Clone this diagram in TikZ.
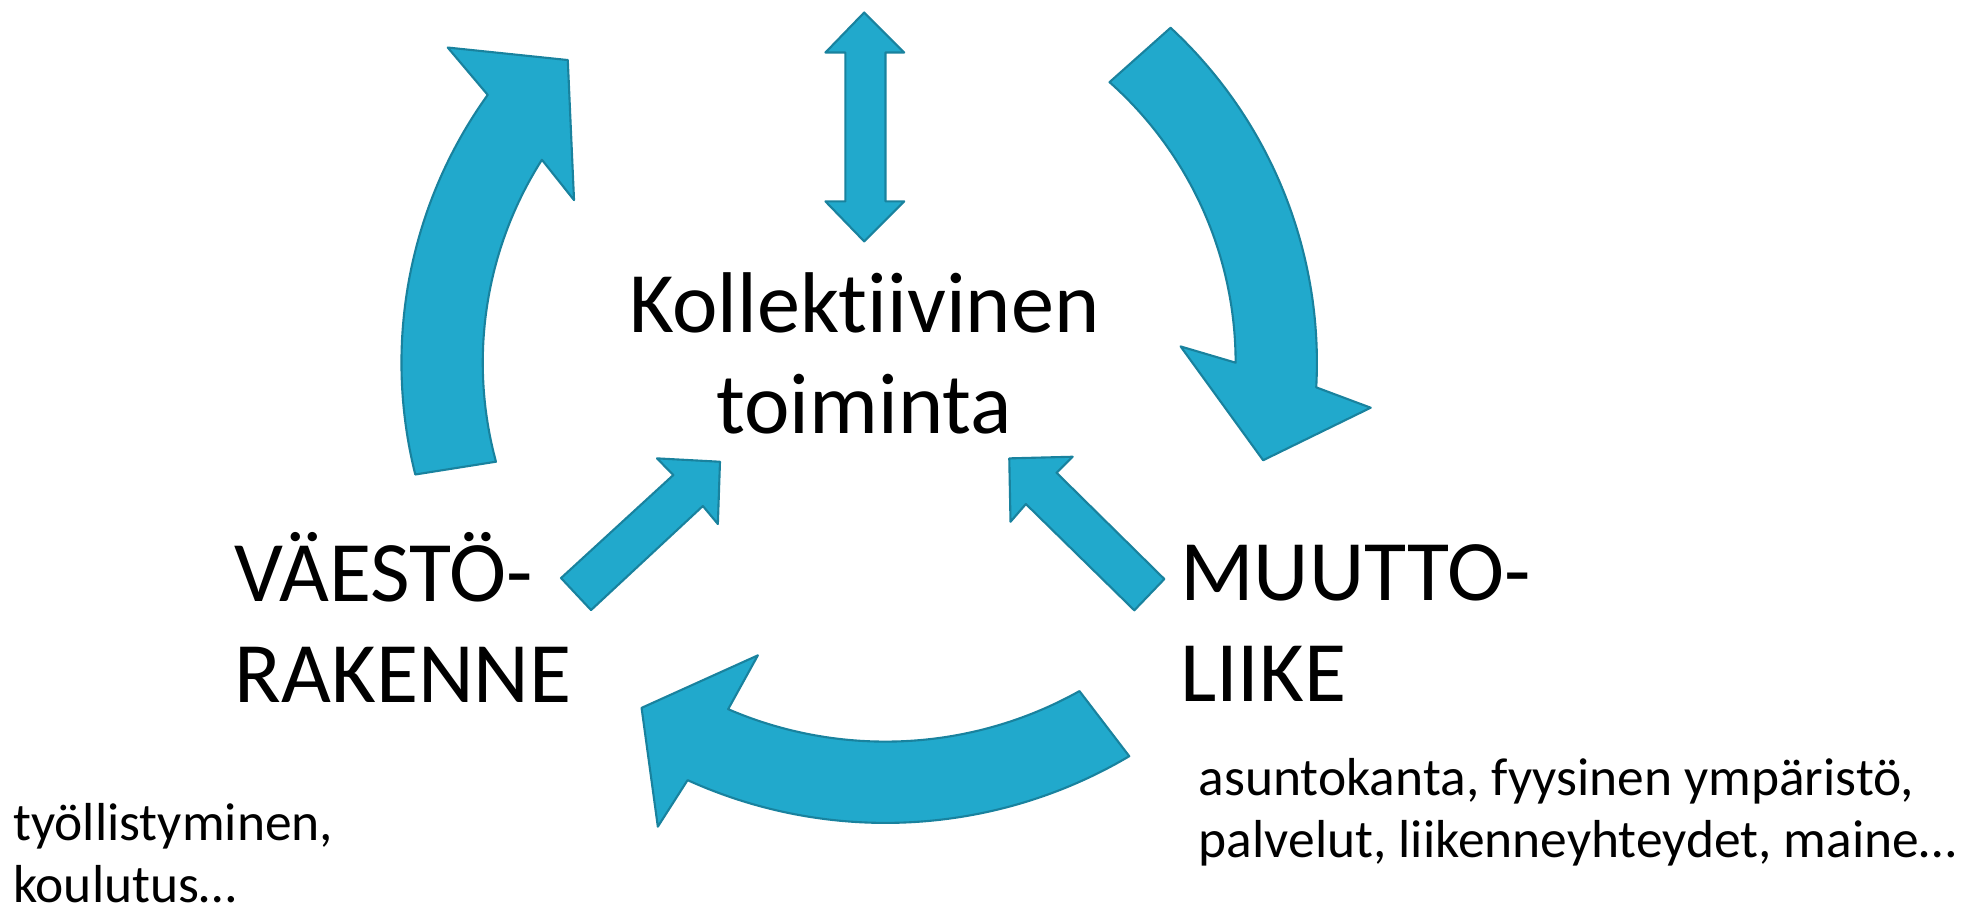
\documentclass[tikz,border=0pt]{standalone}
\usepackage{fontspec}
\setmainfont[Ligatures=NoCommon]{Carlito}
\usetikzlibrary{arrows}
\definecolor{qqaacc}{rgb}{0.129,0.663,0.800}
\definecolor{qq8899}{rgb}{0.100,0.510,0.620}

\tikzset{
	blockarrow/.style={line width=0.6pt,color=qq8899,fill=qqaacc},
	bigtext/.style={inner sep=0pt,font=\fontsize{24.5}{28.7}\selectfont},
	smalltext/.style={inner sep=0pt,font=\fontsize{15.2}{17.8}\selectfont}
}

\begin{document}
\begin{tikzpicture}[line cap=round,line join=round,>=triangle 45,x=0.0125cm,y=-0.0125cm]
		\useasboundingbox (0,0) rectangle (1568,727);
		% vasen kaari ylos
		\begin{scope}[shift={(688,290)}]
			\draw [blockarrow] (165.9:367) arc[start angle=165.9,end angle=215.7,radius=367] -- (-330,-252) -- (-234,-242) -- (-229,-130) -- (212.5:302) arc[start angle=212.5,end angle=164.8,radius=302] -- cycle;
		\end{scope}
		% oikea kaari alas
		\begin{scope}[shift={(688,290)}]
			\draw [blockarrow] (-47.2:365) arc[start angle=-47.2,end angle=3.1,radius=365] -- (408,36) -- (322,78) -- (256,-13) -- (0:300) arc[start angle=0,end angle=-48.4,radius=300] -- cycle;
		\end{scope}
		% alakaari vasemmalle
		\begin{scope}[shift={(708,275)}]
			\draw [blockarrow] (59.4:383) arc[start angle=59.4,end angle=114.4,radius=383] -- (-182,386) -- (-195,291) -- (-102,249) -- (113.3:318) arc[start angle=113.3,end angle=60.8,radius=318] -- cycle;
		\end{scope}
		% kaksipainen nuoli
		\draw [blockarrow] (691,10) -- (723,42) -- (708,42) -- (708,161) -- (723,161) -- (691,193) -- (660,161) -- (676,161) -- (676,42) -- (660,42) -- cycle;
		% pienet nuolet keskelle
		\draw [blockarrow] (448.6,462.2) -- (538.4,379.8) -- (525.3,366.5) -- (575.7,369.2) -- (574,419) -- (562,404.6) -- (472.6,487.8) -- cycle;
		\draw [blockarrow] (931,463) -- (844.8,378) -- (857.7,365.2) -- (807,366.5) -- (808,417.2) -- (820.3,403) -- (907,488) -- cycle;
		% tekstit
		\node [bigtext,anchor=base] (kollektiivinen) at (691,266) {Kollektiivinen};
		\node [bigtext,anchor=base] (toiminta) at (691,347) {toiminta};
		\node [bigtext,anchor=base west] (vaesto) at (187,481) {VÄESTÖ-};
		\node [bigtext,anchor=base west] (rakenne) at (187,562) {RAKENNE};
		\node [bigtext,anchor=base west] (muutto) at (943,480) {MUUTTO-};
		\node [bigtext,anchor=base west] (liike) at (943,561) {LIIKE};
		\node [smalltext,anchor=base west] (asuntokanta) at (958,636) {asuntokanta, fyysinen ympäristö,};
		\node [smalltext,anchor=base west] (palvelut) at (958,686) {palvelut, liikenneyhteydet, maine…};
		\node [smalltext,anchor=base west] (tyollistyminen) at (10,672) {työllistyminen,};
		\node [smalltext,anchor=base west] (koulutus) at (10,722) {koulutus…};
	\end{tikzpicture}
\end{document}
